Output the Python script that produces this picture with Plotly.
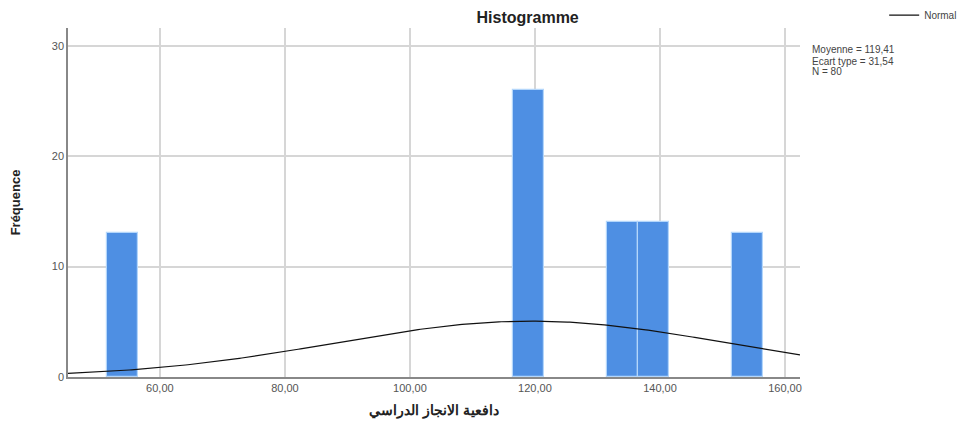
import numpy as np
import plotly.graph_objects as go

bin_centers = [54, 119, 134, 139, 154]
counts = [13, 26, 14, 14, 13]
bin_width = 5
mean_val = 119.41
sd_val = 31.54
n_val = 80
x_ticks = [60, 80, 100, 120, 140, 160]
y_ticks = [0, 10, 20, 30]
stats_lines = ["Moyenne = 119,41", "Ecart type = 31,54", "N = 80"]

x_min, x_max = 45.3, 162.4
xs = np.linspace(x_min, x_max, 300)
ys = n_val * bin_width / (sd_val * np.sqrt(2 * np.pi)) * np.exp(-0.5 * ((xs - mean_val) / sd_val) ** 2)

fig = go.Figure()
fig.add_trace(go.Bar(
    x=bin_centers, y=counts, width=[bin_width] * len(counts),
    marker=dict(color="#4e8fe3", line=dict(color="#b3d6fb", width=1.2)),
    showlegend=False, hoverinfo="x+y"))
fig.add_trace(go.Scatter(
    x=xs, y=ys, mode="lines", name="Normal",
    line=dict(color="#111111", width=1.2)))

fig.update_layout(
    width=957, height=416,
    margin=dict(l=60, r=165, t=20, b=47, autoexpand=False),
    paper_bgcolor="white", plot_bgcolor="white",
    separators=", ",
    bargap=0,
    font=dict(family="Liberation Sans, Arial, sans-serif", color="#333333"),
    title=dict(text="<b>Histogramme</b>", x=0.543, xanchor="center", y=0.978, yanchor="middle",
               font=dict(size=16, color="#222222")),
    showlegend=True,
    legend=dict(x=1.115, y=1.037, xanchor="left", yanchor="middle",
                font=dict(size=10, color="#444444"), bgcolor="rgba(0,0,0,0)",
                itemwidth=30),
    xaxis=dict(range=[x_min, x_max], tickvals=x_ticks, tickformat=".2f",
               showgrid=True, gridcolor="#d6d6d6", gridwidth=1.5,
               showline=True, linecolor="#888888", linewidth=1.5,
               ticks="", tickfont=dict(size=11, color="#555555"),
               title=dict(text="<b>دافعية الانجاز الدراسي</b>", standoff=12,
                          font=dict(size=14, color="#222222")),
               zeroline=False),
    yaxis=dict(range=[0, 31.6], tickvals=y_ticks,
               showgrid=True, gridcolor="#d6d6d6", gridwidth=1.5,
               showline=True, linecolor="#888888", linewidth=1.5,
               ticks="", tickfont=dict(size=11, color="#555555"),
               title=dict(text="<b>Fréquence</b>", standoff=30,
                          font=dict(size=13, color="#222222")),
               zeroline=False),
)

for line_text, ypos in zip(stats_lines, [0.937, 0.905, 0.874]):
    fig.add_annotation(
        xref="paper", yref="paper", x=1.0137, y=ypos, xanchor="left", yanchor="middle",
        text=line_text, showarrow=False, align="left",
        font=dict(size=10, color="#444444"))

fig.write_html("out.html")
